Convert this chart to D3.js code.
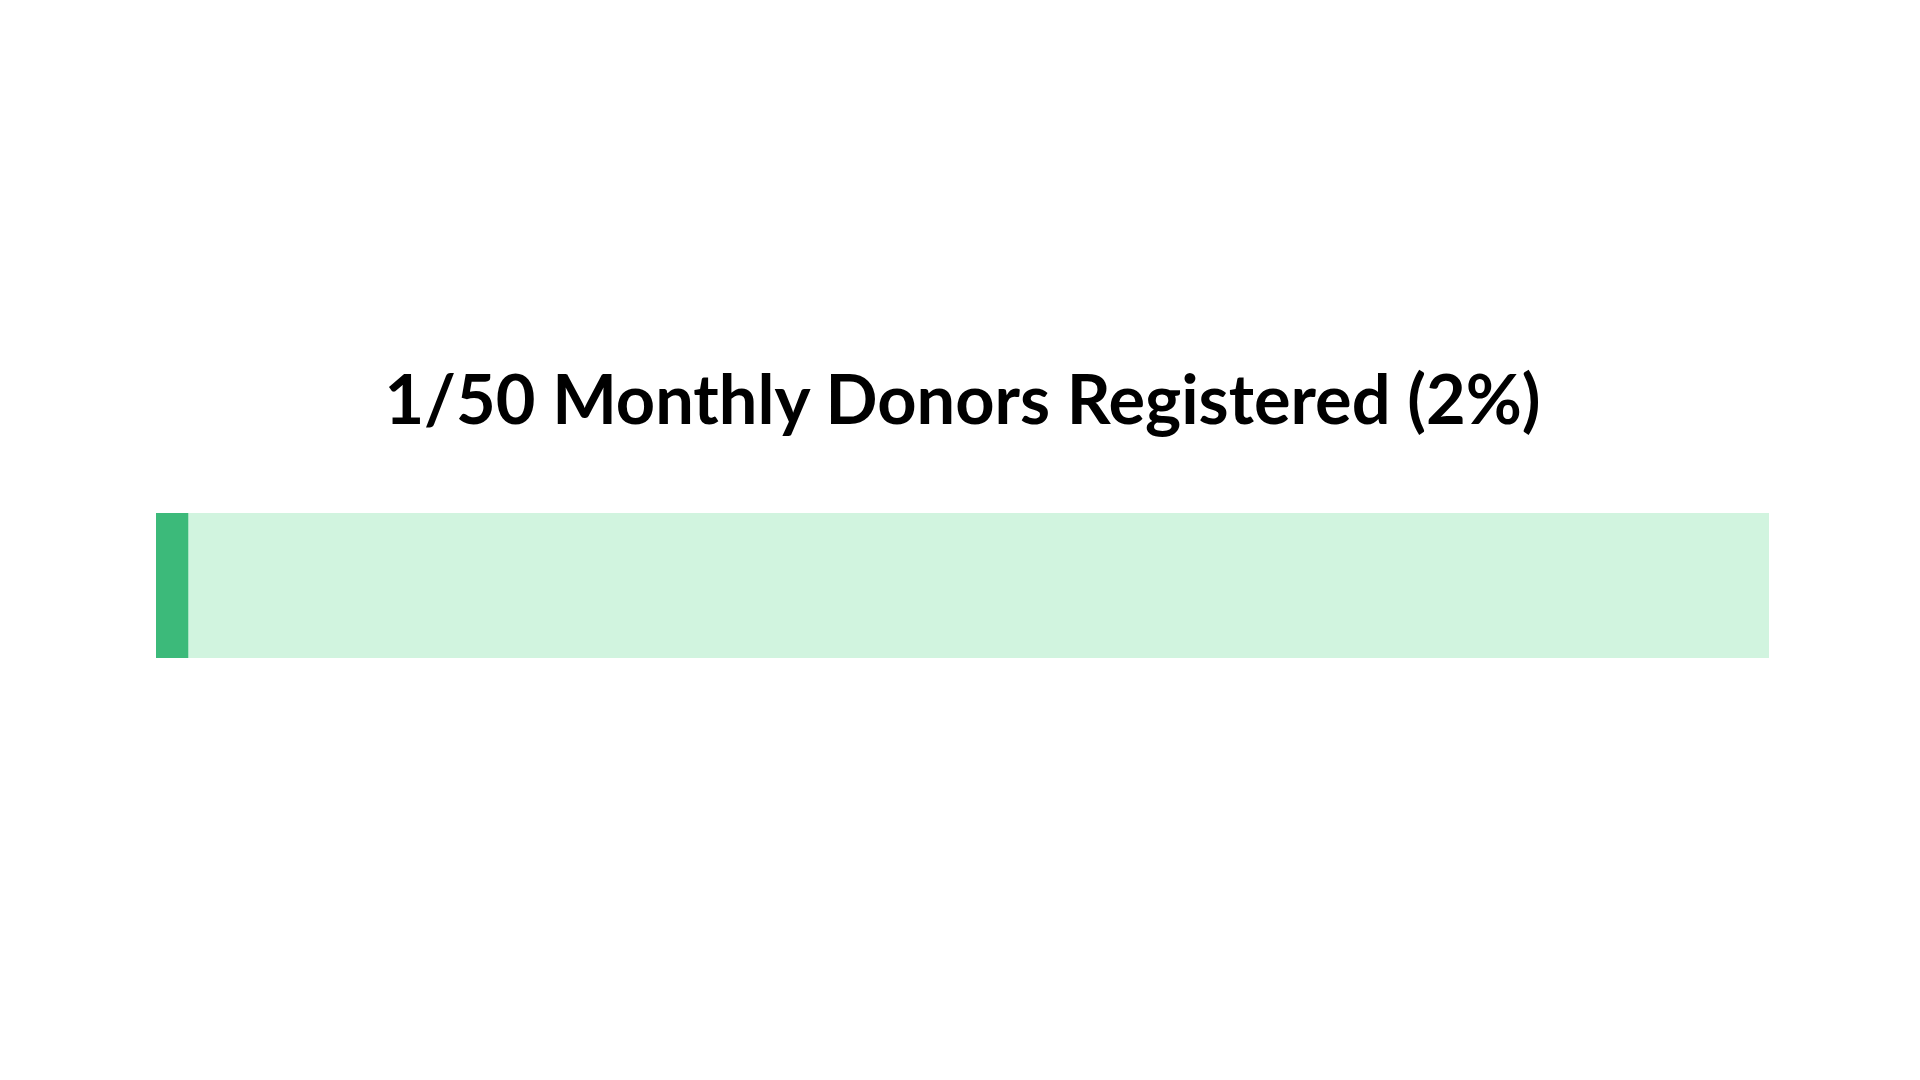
<!DOCTYPE html>
<html>
<head>
<meta charset="utf-8">
<script src="https://cdn.jsdelivr.net/npm/d3@7"></script>
<style>
html,body{margin:0;padding:0;background:#fff;}
svg{display:block;}
</style>
</head>
<body>
<svg id="chart" width="1920" height="1080"></svg>
<script>
const labels = ["Monthly Donors Registered"];
const registered = [1];
const goal = [50];

const W = 1920, H = 1080;
const svg = d3.select("#chart");
svg.append("rect").attr("width", W).attr("height", H).attr("fill", "#ffffff");

const x = d3.scaleLinear().domain([0, goal[0]]).range([156, 1769]);
const y = d3.scaleBand().domain(labels).range([513, 658]).padding(0);

const pct = Math.round(registered[0] / goal[0] * 100);

svg.append("text")
  .attr("x", (x.range()[0] + x.range()[1]) / 2)
  .attr("y", 424)
  .attr("text-anchor", "middle")
  .attr("font-family", "Lato, sans-serif")
  .attr("font-weight", 700)
  .attr("font-size", 68.5)
  .attr("fill", "#000")
  .text(`${registered[0]}/${goal[0]} ${labels[0]} (${pct}%)`);

svg.selectAll("rect.bg").data(labels).enter().append("rect")
  .attr("class", "bg")
  .attr("x", x(0))
  .attr("y", d => y(d))
  .attr("width", x(goal[0]) - x(0))
  .attr("height", y.bandwidth())
  .attr("fill", "#d1f4df");

svg.selectAll("rect.fg").data(labels).enter().append("rect")
  .attr("class", "fg")
  .attr("x", x(0))
  .attr("y", d => y(d))
  .attr("width", (d, i) => x(registered[i]) - x(0))
  .attr("height", y.bandwidth())
  .attr("fill", "#3cba7a");
</script>
</body>
</html>
